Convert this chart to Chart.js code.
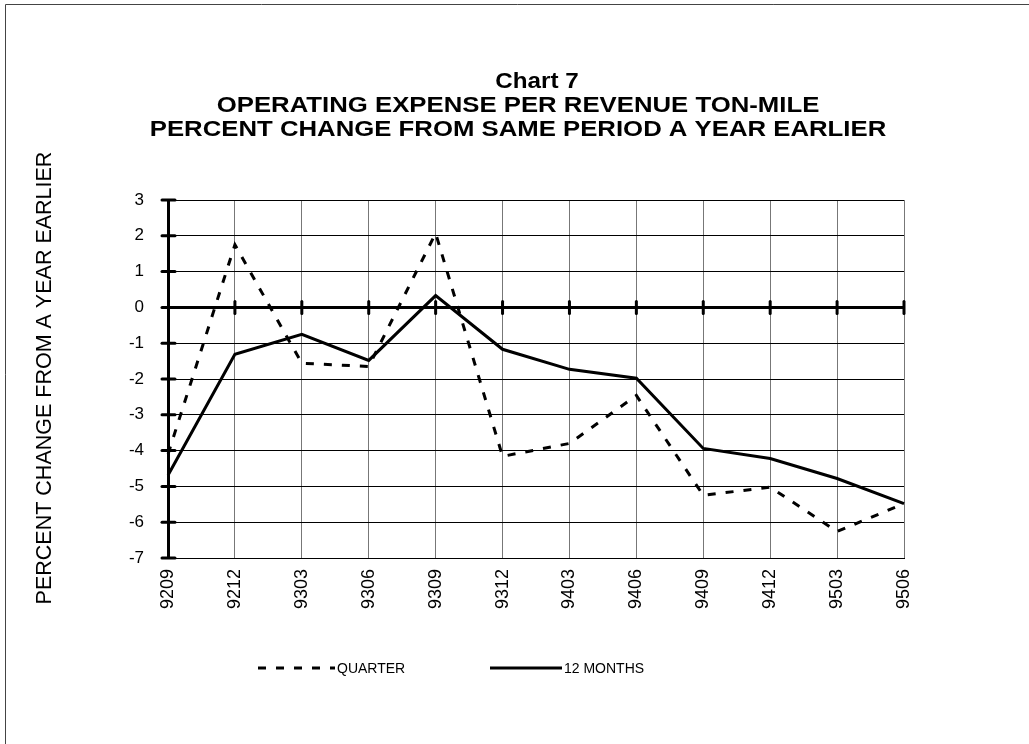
<!DOCTYPE html>
<html>
<head>
<meta charset="utf-8">
<script src="https://cdn.jsdelivr.net/npm/chart.js@4/dist/chart.umd.min.js"></script>
<style>
  html, body { margin: 0; padding: 0; background: #fff; }
  #wrap { width: 1029px; height: 744px; position: relative; }
</style>
</head>
<body>
<div id="wrap"><canvas id="chart7" width="1029" height="744"></canvas></div>
<script>
// period labels (YYMM)
var periods = ['9209', '9212', '9303', '9306', '9309', '9312', '9403', '9406', '9409', '9412', '9503', '9506'];
// percent change, quarter vs same quarter a year earlier
var quarter = [-4.1, 1.75, -1.56, -1.65, 2.07, -4.16, -3.8, -2.46, -5.25, -5.02, -6.26, -5.48];
// percent change, 12 months ending
var twelveMonths = [-4.69, -1.31, -0.75, -1.48, 0.33, -1.17, -1.73, -1.98, -3.94, -4.22, -4.78, -5.48];

var titleLines = ['Chart 7', 'OPERATING EXPENSE PER REVENUE TON-MILE', 'PERCENT CHANGE FROM SAME PERIOD A YEAR EARLIER'];
var yTitle = 'PERCENT CHANGE FROM A YEAR EARLIER';

var FONT = '"Liberation Sans", Arial, sans-serif';

// frame, titles, axis ticks and legend
var decor = {
  id: 'decor',
  beforeDraw: function(chart) {
    var c = chart.ctx;
    c.save();
    c.strokeStyle = '#444';
    c.lineWidth = 1;
    c.beginPath();
    c.moveTo(5.5, 744);
    c.lineTo(5.5, 4.5);
    c.lineTo(1029, 4.5);
    c.stroke();
    c.restore();
  },
  afterDraw: function(chart) {
    var c = chart.ctx;
    var xs = chart.scales.x, ys = chart.scales.y;
    c.save();
    // titles, a bit stretched like the original
    c.fillStyle = '#000';
    c.textAlign = 'center';
    c.textBaseline = 'alphabetic';
    c.font = 'bold 22px ' + FONT;
    var tpos = [[537, 88], [518, 112], [518, 136]];
    titleLines.forEach(function(t, i) {
      c.save();
      c.translate(tpos[i][0], tpos[i][1]);
      c.scale(i == 0 ? 1.1 : 1.17, 1);
      c.fillText(t, 0, 0);
      c.restore();
    });
    // y title
    c.save();
    c.translate(45, 378);
    c.rotate(-Math.PI / 2);
    c.font = '21.5px ' + FONT;
    c.textBaseline = 'middle';
    c.fillText(yTitle, 0, 0);
    c.restore();

    // ticks on the y axis
    c.strokeStyle = '#000';
    c.lineWidth = 3;
    c.lineCap = 'round';
    var x0 = xs.left;
    for (var v = ys.min; v <= ys.max; v++) {
      var py = ys.getPixelForValue(v);
      c.beginPath();
      c.moveTo(x0 - 6, py);
      c.lineTo(x0 + 7, py);
      c.stroke();
    }
    // ticks on the zero line
    var y0 = ys.getPixelForValue(0);
    for (var i = 1; i < periods.length; i++) {
      var px = xs.getPixelForValue(i);
      c.beginPath();
      c.moveTo(px, y0 - 6);
      c.lineTo(px, y0 + 6);
      c.stroke();
    }
    c.lineCap = 'butt';

    // legend
    var ly = 668;
    var ds = chart.data.datasets;
    var items = [[258, 335, ds[0]], [490, 562, ds[1]]];
    c.font = '14px ' + FONT;
    c.textAlign = 'left';
    c.textBaseline = 'middle';
    items.forEach(function(it) {
      c.strokeStyle = '#000';
      c.lineWidth = 3;
      c.setLineDash(it[2].borderDash || []);
      c.beginPath();
      c.moveTo(it[0], ly);
      c.lineTo(it[1], ly);
      c.stroke();
      c.setLineDash([]);
      c.fillText(it[2].label, it[1] + 2, ly + 1);
    });
    c.restore();
  }
};

new Chart(document.getElementById('chart7'), {
  type: 'line',
  data: {
    labels: periods,
    datasets: [
      { label: 'QUARTER', data: quarter, borderColor: '#000', borderWidth: 3, borderDash: [8, 10], pointRadius: 0, tension: 0, fill: false },
      { label: '12 MONTHS', data: twelveMonths, borderColor: '#000', borderWidth: 3, pointRadius: 0, tension: 0, fill: false }
    ]
  },
  options: {
    responsive: false,
    animation: false,
    layout: { padding: { top: 200, right: 125, left: 0, bottom: 0 } },
    plugins: { legend: { display: false }, title: { display: false }, tooltip: { enabled: false } },
    scales: {
      x: {
        type: 'category',
        offset: false,
        afterFit: function(s) { s.height = 186; },
        grid: { color: '#777', lineWidth: 1, drawTicks: false },
        border: { color: '#000', width: 1 },
        ticks: { color: '#000', font: { family: FONT, size: 18 }, minRotation: 90, maxRotation: 90, padding: 11, autoSkip: false }
      },
      y: {
        min: -7, max: 3,
        afterFit: function(s) { s.width = 168; },
        grid: {
          drawTicks: false,
          color: '#000',
          lineWidth: function(ctx) { return ctx.tick && ctx.tick.value === 0 ? 3 : 1; }
        },
        border: { color: '#000', width: 3 },
        ticks: { stepSize: 1, color: '#000', font: { family: FONT, size: 17 }, padding: 24 }
      }
    }
  },
  plugins: [decor]
});
</script>
</body>
</html>
